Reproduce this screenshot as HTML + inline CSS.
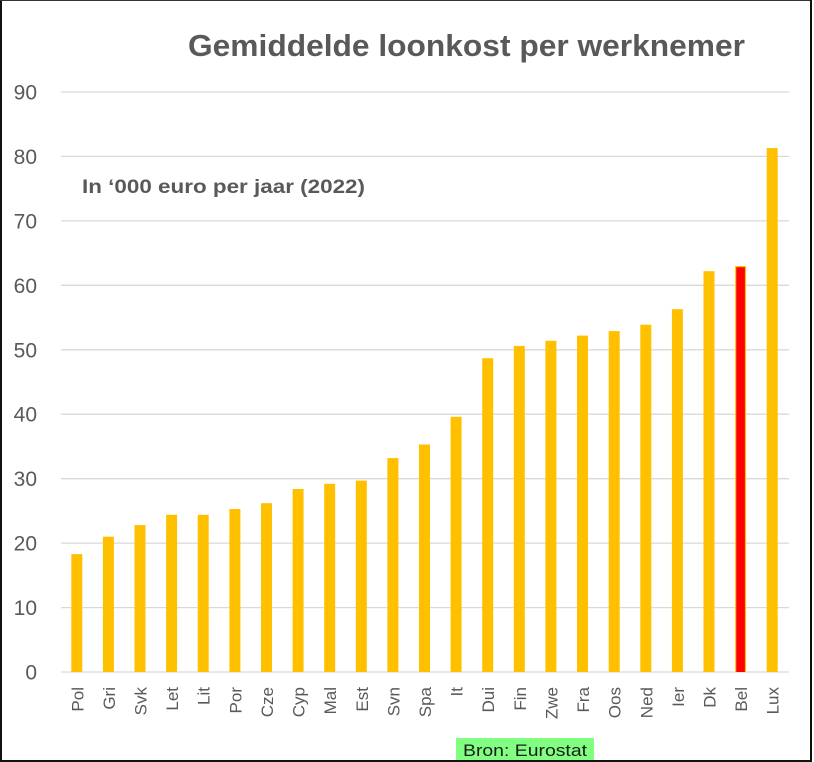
<!DOCTYPE html>
<html><head><meta charset="utf-8"><style>
html,body{margin:0;padding:0;background:#fff;}
svg{display:block;}
</style></head><body>
<svg width="814" height="762" viewBox="0 0 814 762" xmlns="http://www.w3.org/2000/svg" font-family="Liberation Sans, Arial, sans-serif">
<rect x="0" y="0" width="814" height="762" fill="#fff"/>
<!-- border -->
<rect x="0" y="0" width="2" height="762" fill="#111"/>
<rect x="0" y="0" width="811" height="1" fill="#333"/>
<rect x="0" y="760" width="812" height="2" fill="#111"/>
<rect x="810" y="0" width="2" height="762" fill="#111"/>
<!-- title -->
<text x="188" y="56" font-size="31" font-weight="bold" fill="#595959" textLength="557" lengthAdjust="spacingAndGlyphs">Gemiddelde loonkost per werknemer</text>
<text x="82" y="193" font-size="19" font-weight="bold" fill="#595959" textLength="283" lengthAdjust="spacingAndGlyphs">In ‘000 euro per jaar (2022)</text>
<!-- gridlines -->
<g stroke="#D9D9D9" stroke-width="1.3">
<line x1="61" x2="789" y1="92" y2="92"/>
<line x1="61" x2="789" y1="156.4" y2="156.4"/>
<line x1="61" x2="789" y1="220.9" y2="220.9"/>
<line x1="61" x2="789" y1="285.3" y2="285.3"/>
<line x1="61" x2="789" y1="349.8" y2="349.8"/>
<line x1="61" x2="789" y1="414.2" y2="414.2"/>
<line x1="61" x2="789" y1="478.7" y2="478.7"/>
<line x1="61" x2="789" y1="543.1" y2="543.1"/>
<line x1="61" x2="789" y1="607.6" y2="607.6"/>
<line x1="61" x2="789" y1="672" y2="672"/>
</g>
<!-- y labels -->
<g font-size="21" fill="#595959" text-anchor="end">
<text x="37" y="99.5">90</text>
<text x="37" y="163.9">80</text>
<text x="37" y="228.4">70</text>
<text x="37" y="292.8">60</text>
<text x="37" y="357.3">50</text>
<text x="37" y="421.7">40</text>
<text x="37" y="486.2">30</text>
<text x="37" y="550.6">20</text>
<text x="37" y="615.1">10</text>
<text x="37" y="679.5">0</text>
</g>
<!-- bars -->
<g fill="#FFC000">
<rect x="71.3" y="554.1" width="11" height="117.9"/>
<rect x="102.9" y="536.7" width="11" height="135.3"/>
<rect x="134.5" y="525.1" width="11" height="146.9"/>
<rect x="166.1" y="514.8" width="11" height="157.2"/>
<rect x="197.7" y="514.8" width="11" height="157.2"/>
<rect x="229.4" y="509.0" width="11" height="163.0"/>
<rect x="261.0" y="503.2" width="11" height="168.8"/>
<rect x="292.6" y="489.0" width="11" height="183.0"/>
<rect x="324.2" y="483.8" width="11" height="188.2"/>
<rect x="355.8" y="480.6" width="11" height="191.4"/>
<rect x="387.4" y="458.1" width="11" height="213.9"/>
<rect x="419.0" y="444.5" width="11" height="227.5"/>
<rect x="450.6" y="416.8" width="11" height="255.2"/>
<rect x="482.2" y="358.2" width="11" height="313.8"/>
<rect x="513.8" y="345.9" width="11" height="326.1"/>
<rect x="545.4" y="340.8" width="11" height="331.2"/>
<rect x="577.0" y="335.6" width="11" height="336.4"/>
<rect x="608.7" y="331.1" width="11" height="340.9"/>
<rect x="640.3" y="324.7" width="11" height="347.3"/>
<rect x="671.9" y="309.2" width="11" height="362.8"/>
<rect x="703.5" y="271.2" width="11" height="400.8"/>
<rect x="735.1" y="266.0" width="11" height="406.0"/>
<rect x="766.7" y="148.1" width="11" height="523.9"/>
</g>
<rect x="736.3" y="267.2" width="8.6" height="404.8" fill="#FF0000"/>
<!-- x labels -->
<g font-size="17" fill="#595959" text-anchor="end">
<text transform="translate(83.3,687) rotate(-90)">Pol</text>
<text transform="translate(114.9,687) rotate(-90)">Gri</text>
<text transform="translate(146.5,687) rotate(-90)">Svk</text>
<text transform="translate(178.1,687) rotate(-90)">Let</text>
<text transform="translate(209.7,687) rotate(-90)">Lit</text>
<text transform="translate(241.4,687) rotate(-90)">Por</text>
<text transform="translate(273.0,687) rotate(-90)">Cze</text>
<text transform="translate(304.6,687) rotate(-90)">Cyp</text>
<text transform="translate(336.2,687) rotate(-90)">Mal</text>
<text transform="translate(367.8,687) rotate(-90)">Est</text>
<text transform="translate(399.4,687) rotate(-90)">Svn</text>
<text transform="translate(431.0,687) rotate(-90)">Spa</text>
<text transform="translate(462.6,687) rotate(-90)">It</text>
<text transform="translate(494.2,687) rotate(-90)">Dui</text>
<text transform="translate(525.8,687) rotate(-90)">Fin</text>
<text transform="translate(557.4,687) rotate(-90)">Zwe</text>
<text transform="translate(589.0,687) rotate(-90)">Fra</text>
<text transform="translate(620.7,687) rotate(-90)">Oos</text>
<text transform="translate(652.3,687) rotate(-90)">Ned</text>
<text transform="translate(683.9,687) rotate(-90)">Ier</text>
<text transform="translate(715.5,687) rotate(-90)">Dk</text>
<text transform="translate(747.1,687) rotate(-90)">Bel</text>
<text transform="translate(778.7,687) rotate(-90)">Lux</text>
</g>
<!-- source -->
<rect x="456" y="738" width="138" height="22" fill="#80FF80"/>
<text x="463" y="756" font-size="17" fill="#1a1a1a" textLength="124" lengthAdjust="spacingAndGlyphs">Bron: Eurostat</text>
</svg>
</body></html>
